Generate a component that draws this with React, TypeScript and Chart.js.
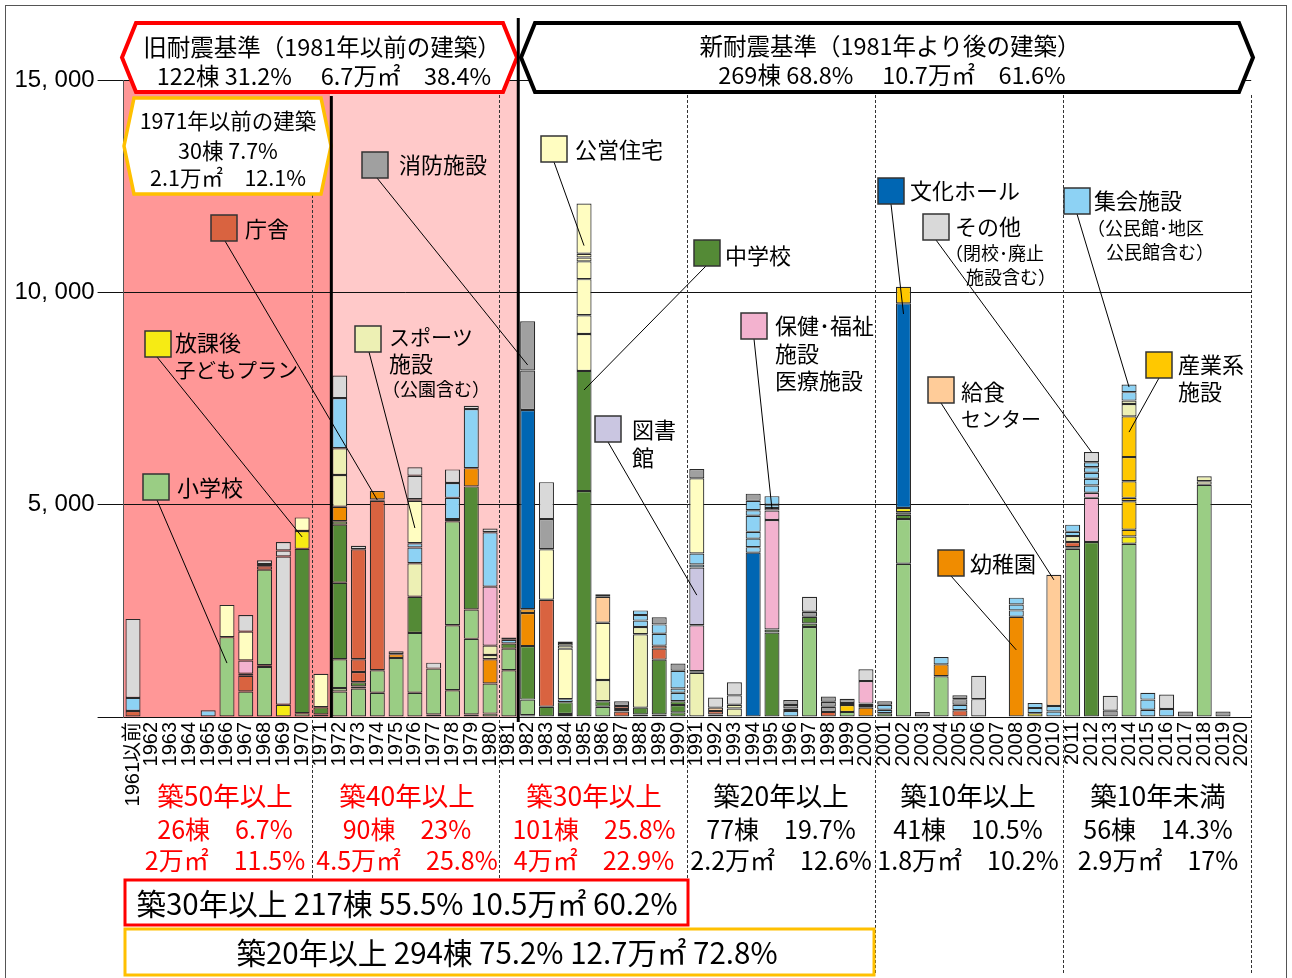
import React, { useEffect, useRef } from 'react';
import { Chart, registerables } from 'chart.js';

Chart.register(...registerables);

type V = number | number[];

const years: string[] = [
  '1961以前', '1962', '1963', '1964', '1965', '1966', '1967', '1968', '1969', '1970',
  '1971', '1972', '1973', '1974', '1975', '1976', '1977', '1978', '1979', '1980',
  '1981', '1982', '1983', '1984', '1985', '1986', '1987', '1988', '1989', '1990',
  '1991', '1992', '1993', '1994', '1995', '1996', '1997', '1998', '1999', '2000',
  '2001', '2002', '2003', '2004', '2005', '2006', '2007', '2008', '2009', '2010',
  '2011', '2012', '2013', '2014', '2015', '2016', '2017', '2018', '2019', '2020',
];

// 延床面積(㎡)  rows: 1961以前-1970 / 1971-1980 / 1981-1990 / 1991-2000 / 2001-2010 / 2011-2020
const shogakko: V[] = [
  0, 0, 0, 0, 0, 1880, 600, [1180, 40, 2250], 0, 90,
  60, [600, 80, 680], 670, [570, 530], 1390, [570, 1410], [60, 1080], [630, 1530, 2450], [60, 1780, 690], [80, 710],
  [1100, 510], [40, 370], 0, 0, 0, 240, 0, 0, 0, 0,
  0, 0, 0, 0, 0, 0, 2120, 0, 120, 0,
  0, [3610, 1050], 0, 960, 0, 0, 0, 0, 0, 0,
  3960, 0, 0, 4080, 0, 0, 0, 5470, 0, 0,
];
const chugakko: V[] = [
  0, 0, 0, 0, 0, 0, 0, 0, 0, 3870,
  170, [1800, 1370, 80], [50, 100], 0, 0, 850, 0, 50, 2900, 0,
  120, 1260, 240, [70, 280], [5320, 2830], 130, 0, [60, 160], [60, 1290], [110, 170, 90],
  0, 60, 0, 0, [1990, 70], 0, [80, 160], 0, 0, 0,
  90, [100, 60], 0, 0, 0, 0, 0, 0, 0, 0,
  40, 4120, 0, 0, 0, 0, 0, 0, 0, 0,
];
const chosha: V[] = [
  140, 0, 0, 0, 0, 0, [370, 50], [80, 50], 0, 0,
  0, 0, [240, 300, 2590], [3990, 30], 0, 0, 0, 0, 0, 0,
  0, 0, 2520, 0, 0, 0, [130, 60, 70], 0, [260, 70], 0,
  0, 80, 0, 0, 0, 0, 0, 120, 0, 0,
  0, 0, 0, 0, 160, 0, 0, 0, 0, 0,
  120, 0, 0, 0, 0, 0, 0, 0, 0, 0,
];
const yochien: V[] = [
  0, 0, 0, 0, 0, 0, 0, 0, 0, 0,
  0, 340, 0, 200, 90, 0, 0, 0, 430, 570,
  0, [780, 90], 0, 0, 0, 0, 0, 0, 0, 0,
  0, 0, 0, 0, 0, 0, 0, 0, 0, [220, 40],
  0, 0, 0, 280, 0, 0, 0, 2360, 0, 0,
  0, 0, 0, 0, 0, 0, 0, 0, 0, 0,
];
const hokago: V[] = [
  0, 0, 0, 0, 0, 0, 0, 0, 290, 420,
  0, 0, 0, 0, 0, 0, 0, 0, 0, 0,
  0, 0, 0, 0, 0, 0, 0, 0, 0, 0,
  0, 0, 0, 0, 0, 0, 0, 0, 0, 55,
  0, 100, 0, 0, 0, 0, 0, 0, 90, 0,
  0, 0, 0, 170, 0, 0, 0, 0, 0, 0,
];
const bunka: V[] = [
  0, 0, 0, 0, 0, 0, 0, 0, 0, 0,
  0, 0, 0, 0, 0, 0, 0, 0, 0, 0,
  0, 4690, 0, 0, 0, 0, 0, 0, 0, 0,
  0, 0, 0, 3870, 0, 0, 0, 0, 0, 0,
  0, 4820, 0, 0, 0, 0, 0, 0, 0, 0,
  0, 0, 0, 0, 0, 0, 0, 0, 0, 0,
];
const sangyo: V[] = [
  0, 0, 0, 0, 0, 0, 0, 0, 0, 0,
  0, 0, 0, 0, 0, 0, 0, 0, 0, 0,
  0, 0, 0, 0, 0, 0, 0, 0, 0, 0,
  0, 0, 0, 0, 0, 0, 0, 0, [160, 50], 0,
  0, 390, 0, 0, 0, 0, 0, 0, 0, 0,
  0, 0, 0, [160, 670, 80, 390, 570, 960], 0, 0, 0, 0, 0, 0,
];
const sports: V[] = [
  0, 0, 0, 0, 0, 0, 0, 0, 0, 0,
  0, [750, 630], 0, 0, 0, 790, 0, 0, 0, [100, 220],
  0, 0, 0, 0, 0, 500, 0, [1730, 170], 0, 0,
  [1040, 40], 0, [200, 90], 0, 0, 0, 0, 0, 0, 0,
  0, 0, 0, 0, 0, 0, 0, 0, 0, 0,
  140, 0, 0, [290, 80], 0, 0, 0, [80, 120], 0, 0,
];
const hoken: V[] = [
  0, 0, 0, 0, 0, 0, 310, 0, 0, 0,
  0, 0, 0, 0, 0, 0, 0, 0, 0, 1390,
  0, 0, 0, 0, 0, 0, 0, 0, 0, 0,
  1080, 0, 0, 0, [2580, 220, 60], 0, 0, 0, 0, 530,
  0, 0, 0, 0, 0, 0, 0, 0, 0, 0,
  0, [1040, 120], 0, 0, 0, 0, 0, 0, 0, 0,
];
const tosho: V[] = [
  0, 0, 0, 0, 0, 0, 0, 0, 0, 0,
  0, 0, 0, 0, 0, 0, 0, 0, 0, 0,
  0, 0, 0, 0, 0, 0, 0, 0, 0, 0,
  1360, 0, 0, 0, 0, 0, 0, 0, 0, 0,
  0, 0, 0, 0, 0, 0, 0, 0, 0, 0,
  0, 0, 0, 0, 0, 0, 0, 0, 0, 0,
];
const shukai: V[] = [
  310, 0, 0, 0, 160, 0, 0, 0, 0, 0,
  0, 1180, 0, 0, 0, [370, 100], 0, [500, 350], 1390, 1280,
  90, 0, 0, 70, 0, 0, 0, [150, 130, 110], [280, 220], [200, 100, 420],
  [70, 260], 0, 0, [130, 200, 160, 380, 130, 220], [80, 200], 140, 0, 0, 0, 0,
  [80, 120], 0, 0, 170, 130, 0, 0, [150, 140, 160], [120, 120], [130, 130],
  [100, 170], [170, 160, 140, 130, 120], 0, [200, 180], [170, 240, 160], 190, 0, 0, 0, 0,
];
const koei: V[] = [
  0, 0, 0, 0, 0, 760, 680, 0, 0, 320,
  790, 0, 0, 0, 0, [1000, 40], 0, 0, 0, 0,
  0, 0, 1190, [1190, 70, 60], [870, 440, 850, 420, 90, 90, 1180], 1350, 0, 0, 0, 0,
  1770, 0, 0, 0, 0, 0, 0, 0, 0, 0,
  0, 0, 0, 0, 0, 0, 0, 0, 0, 0,
  0, 0, 0, 0, 0, 0, 0, 0, 0, 0,
];
const kyushoku: V[] = [
  0, 0, 0, 0, 0, 0, 0, 0, 0, 0,
  0, 0, 0, 0, 0, 0, 0, 0, 0, 0,
  0, 0, 0, 0, 0, 610, 0, 0, 0, 0,
  0, 80, 0, 0, 0, 0, 0, 0, 0, 0,
  0, 0, 0, 0, 0, 0, 0, 0, 0, 3090,
  0, 0, 0, 0, 0, 0, 0, 0, 0, 0,
];
const shobo: V[] = [
  0, 0, 0, 0, 0, 0, 0, 0, 0, 0,
  0, 0, 0, 0, 70, 0, 0, 0, 0, 0,
  50, [930, 1160], 710, 40, 0, 60, 110, 0, 170, 170,
  220, 0, 0, 170, 0, [60, 80, 120], 120, [120, 120, 120], 100, 0,
  80, 0, 120, 0, [130, 90], 0, 0, 0, 0, 0,
  0, 0, 150, 0, 0, 0, 130, 0, 130, 0,
];
const sonota: V[] = [
  1860, 0, 0, 0, 0, 0, 390, 90, [3490, 140, 200], 0,
  0, 530, 80, 0, 0, [550, 200], 140, 320, 80, 90,
  0, 0, 870, 0, 0, 0, 0, 0, 0, 0,
  0, 240, [220, 310], 0, 0, 0, 350, 0, 0, 280,
  0, 0, 0, 0, 0, [420, 550], 0, 0, 0, 0,
  0, 240, 350, 0, 0, 340, 0, 0, 0, 0,
];

const yTicks: number[] = [0, 5000, 10000, 15000];

// stacking order bottom -> top
const types: { name: string; color: string; data: V[] }[] = [
  { name: '小学校', color: '#9ACD84', data: shogakko },
  { name: '中学校', color: '#548A36', data: chugakko },
  { name: '庁舎', color: '#D96340', data: chosha },
  { name: '幼稚園', color: '#F08C00', data: yochien },
  { name: '放課後子どもプラン', color: '#F6EB14', data: hokago },
  { name: '文化ホール', color: '#0066B3', data: bunka },
  { name: '産業系施設', color: '#FFC800', data: sangyo },
  { name: 'スポーツ施設', color: '#EDF0B4', data: sports },
  { name: '保健・福祉施設 医療施設', color: '#F3B2CF', data: hoken },
  { name: '図書館', color: '#CAC6E1', data: tosho },
  { name: '集会施設', color: '#8DD2F4', data: shukai },
  { name: '公営住宅', color: '#FFFDC1', data: koei },
  { name: '給食センター', color: '#FFCC99', data: kyushoku },
  { name: '消防施設', color: '#A0A0A0', data: shobo },
  { name: 'その他', color: '#D9D9D9', data: sonota },
];

const colorOf = (n: string) => types.find((t) => t.name === n)!.color;

const JP = "'Noto Sans CJK JP', 'Noto Sans', sans-serif";

type Note = {
  type: string;
  box: [number, number];
  text: [string, number, number, number][];
  from: [number, number];
  to: [string, number];
};

const notes: Note[] = [
  { type: '小学校', box: [143, 474], text: [['小学校', 177, 488, 22]], from: [157, 500], to: ['1966', 1270] },
  { type: '放課後子どもプラン', box: [145, 331], text: [['放課後', 175, 343, 22], ['子どもプラン', 175, 370, 20.5]], from: [157, 357], to: ['1970', 4240] },
  { type: '庁舎', box: [211, 215], text: [['庁舎', 245, 229, 22]], from: [225, 241], to: ['1974', 5110] },
  { type: 'スポーツ施設', box: [355, 326], text: [['スポーツ', 389, 337, 21], ['施設', 389, 364, 22], ['（公園含む）', 382, 389, 18]], from: [369, 352], to: ['1976', 4450] },
  { type: '消防施設', box: [362, 152], text: [['消防施設', 399, 165, 22]], from: [377, 178], to: ['1982', 8290] },
  { type: '公営住宅', box: [541, 136], text: [['公営住宅', 575, 150, 22]], from: [554, 162], to: ['1985', 11100] },
  { type: '中学校', box: [694, 240], text: [['中学校', 725, 256, 22]], from: [706, 266], to: ['1985', 7700] },
  { type: '図書館', box: [595, 416], text: [['図書', 632, 430, 22], ['館', 632, 458, 22]], from: [608, 442], to: ['1991', 2870] },
  { type: '保健・福祉施設 医療施設', box: [741, 313], text: [['保健･福祉', 775, 326, 22], ['施設', 775, 354, 22], ['医療施設', 775, 381, 22]], from: [754, 339], to: ['1995', 4900] },
  { type: '文化ホール', box: [878, 178], text: [['文化ホール', 910, 191, 22]], from: [891, 204], to: ['2002', 9490] },
  { type: 'その他', box: [923, 214], text: [['その他', 955, 227, 22], ['（閉校･廃止', 945, 253, 18], ['施設含む）', 966, 277, 18]], from: [936, 240], to: ['2012', 6240] },
  { type: '給食センター', box: [928, 377], text: [['給食', 961, 392, 22], ['センター', 961, 419, 20]], from: [941, 403], to: ['2010', 3230] },
  { type: '幼稚園', box: [938, 550], text: [['幼稚園', 970, 564, 22]], from: [951, 576], to: ['2008', 1580] },
  { type: '集会施設', box: [1064, 188], text: [['集会施設', 1094, 201, 22], ['（公民館･地区', 1087, 228, 18], ['公民館含む）', 1106, 252, 18]], from: [1077, 214], to: ['2014', 7770] },
  { type: '産業系施設', box: [1146, 352], text: [['産業系', 1178, 365, 22], ['施設', 1178, 392, 22]], from: [1159, 378], to: ['2014', 6710] },
];

const ageCols: { x: number; color: string; lines: string[] }[] = [
  { x: 225, color: '#FF0000', lines: ['築50年以上', '26棟　6.7%', '2万㎡　11.5%'] },
  { x: 407, color: '#FF0000', lines: ['築40年以上', '90棟　23%', '4.5万㎡　25.8%'] },
  { x: 594, color: '#FF0000', lines: ['築30年以上', '101棟　25.8%', '4万㎡　22.9%'] },
  { x: 781, color: '#000000', lines: ['築20年以上', '77棟　19.7%', '2.2万㎡　12.6%'] },
  { x: 968, color: '#000000', lines: ['築10年以上', '41棟　10.5%', '1.8万㎡　10.2%'] },
  { x: 1158, color: '#000000', lines: ['築10年未満', '56棟　14.3%', '2.9万㎡　17%'] },
];

function hexagon(ctx: CanvasRenderingContext2D, l: number, r: number, t: number, b: number, inset: number, stroke: string, lw: number) {
  const m = (t + b) / 2;
  ctx.beginPath();
  ctx.moveTo(l, m);
  ctx.lineTo(l + inset, t);
  ctx.lineTo(r - inset, t);
  ctx.lineTo(r, m);
  ctx.lineTo(r - inset, b);
  ctx.lineTo(l + inset, b);
  ctx.closePath();
  ctx.fillStyle = '#ffffff';
  ctx.fill();
  ctx.lineJoin = 'miter';
  ctx.strokeStyle = stroke;
  ctx.lineWidth = lw;
  ctx.stroke();
}

function text(ctx: CanvasRenderingContext2D, s: string, x: number, y: number, size: number, align: CanvasTextAlign, color = '#000') {
  ctx.font = `${size}px ${JP}`;
  ctx.fillStyle = color;
  ctx.textAlign = align;
  ctx.textBaseline = 'middle';
  ctx.fillText(s, x, y);
}

const decoPlugin = {
  id: 'deco',
  beforeDraw(chart: any) {
    const { ctx, chartArea: a, scales } = chart;
    const x = scales.x;
    const step = x.getPixelForValue(1) - x.getPixelForValue(0);
    const bnd = (i: number) => x.getPixelForValue(i) - step / 2;
    ctx.save();
    ctx.fillStyle = '#FF9797';
    ctx.fillRect(a.left, a.top, bnd(11) - a.left, a.bottom - a.top);
    ctx.fillStyle = '#FFC9C9';
    ctx.fillRect(bnd(11), a.top, bnd(21) - bnd(11), a.bottom - a.top);
    ctx.restore();
  },
  afterDraw(chart: any) {
    const { ctx, scales } = chart;
    const x = scales.x;
    const y = scales.y;
    const step = x.getPixelForValue(1) - x.getPixelForValue(0);
    const bnd = (i: number) => x.getPixelForValue(i) - step / 2;
    ctx.save();

    // dashed separators
    ctx.strokeStyle = '#333';
    ctx.lineWidth = 1;
    ctx.setLineDash([3, 2]);
    const dashed: [number, number, number][] = [
      [10, 195, 878], [20, 95, 878], [30, 95, 880], [40, 95, 975], [50, 95, 975], [60, 95, 975],
    ];
    for (const [i, t, b] of dashed) {
      const px = Math.round(bnd(i)) + 0.5;
      ctx.beginPath();
      ctx.moveTo(px, t);
      ctx.lineTo(px, b);
      ctx.stroke();
    }
    ctx.setLineDash([]);

    // headers
    hexagon(ctx, 122, 517, 23, 92, 14, '#FF0000', 4);
    hexagon(ctx, 521, 1253, 23, 92, 14, '#000000', 4);
    hexagon(ctx, 124, 331, 98, 194, 10, '#FFC000', 3.5);
    text(ctx, '旧耐震基準（1981年以前の建築）', 322, 47, 23.5, 'center');
    text(ctx, '122棟 31.2%　 6.7万㎡　38.4%', 324, 76, 23.5, 'center');
    text(ctx, '新耐震基準（1981年より後の建築）', 890, 46, 23.5, 'center');
    text(ctx, '269棟 68.8%　 10.7万㎡　61.6%', 892, 75, 23.5, 'center');
    text(ctx, '1971年以前の建築', 228, 121, 21.5, 'center');
    text(ctx, '30棟 7.7%', 228, 151, 21.5, 'center');
    text(ctx, '2.1万㎡　12.1%', 228, 178, 21.5, 'center');

    // thick solid separators
    ctx.strokeStyle = '#000';
    ctx.lineWidth = 3;
    ctx.beginPath();
    ctx.moveTo(bnd(11) + 1, 96);
    ctx.lineTo(bnd(11) + 1, 718);
    ctx.moveTo(bnd(21), 18);
    ctx.lineTo(bnd(21), 722);
    ctx.stroke();

    // annotations
    for (const n of notes) {
      const ti = years.indexOf(n.to[0]);
      const tx = x.getPixelForValue(ti);
      const ty = y.getPixelForValue(n.to[1]);
      ctx.strokeStyle = '#000';
      ctx.lineWidth = 1;
      ctx.beginPath();
      ctx.moveTo(n.from[0], n.from[1]);
      ctx.lineTo(tx, ty);
      ctx.stroke();
      ctx.fillStyle = colorOf(n.type);
      ctx.fillRect(n.box[0], n.box[1], 26, 26);
      ctx.strokeStyle = '#333';
      ctx.lineWidth = 1.5;
      ctx.strokeRect(n.box[0], n.box[1], 26, 26);
      for (const [s, px, py, sz] of n.text) text(ctx, s, px, py, sz, 'left');
    }

    // age groups
    for (const c of ageCols) {
      text(ctx, c.lines[0], c.x, 796, 26.5, 'center', c.color);
      text(ctx, c.lines[1], c.x, 829, 25, 'center', c.color);
      text(ctx, c.lines[2], c.x, 860, 25, 'center', c.color);
    }
    ctx.lineWidth = 3;
    ctx.strokeStyle = '#FF0000';
    ctx.strokeRect(125, 880, 563, 45);
    text(ctx, '築30年以上 217棟 55.5% 10.5万㎡ 60.2%', 407, 904, 29.5, 'center');
    ctx.strokeStyle = '#FFC000';
    ctx.strokeRect(125, 929, 749, 46);
    text(ctx, '築20年以上 294棟 75.2% 12.7万㎡ 72.8%', 507, 953, 29.5, 'center');

    // outer frame
    ctx.strokeStyle = '#555';
    ctx.lineWidth = 1;
    ctx.strokeRect(5.5, 5.5, 1281, 990);
    ctx.restore();
  },
};

function segs(v: V): number[] {
  return Array.isArray(v) ? v : v ? [v] : [];
}

export default function App() {
  const ref = useRef<HTMLCanvasElement>(null);
  useEffect(() => {
    if (!ref.current) return;
    const datasets: any[] = [];
    for (const t of types) {
      const depth = Math.max(...t.data.map((v) => segs(v).length));
      for (let k = 0; k < depth; k++) {
        datasets.push({
          label: t.name,
          data: t.data.map((v) => {
            const s = segs(v);
            return k < s.length ? s[k] : null;
          }),
          backgroundColor: t.color,
          borderColor: '#2a2a2a',
          borderWidth: 1.2,
          borderSkipped: false,
          barPercentage: 0.8,
          categoryPercentage: 1,
          stack: 'all',
        });
      }
    }
    const chart = new Chart(ref.current, {
      type: 'bar',
      data: { labels: years, datasets },
      options: {
        responsive: false,
        animation: false,
        devicePixelRatio: 1,
        layout: { padding: { left: 0, top: 80, right: 40.8, bottom: 0 } },
        plugins: { legend: { display: false }, tooltip: { enabled: false } },
        scales: {
          x: {
            stacked: true,
            offset: true,
            grid: { display: false, drawTicks: false },
            border: { display: false },
            ticks: {
              autoSkip: false,
              minRotation: 90,
              maxRotation: 90,
              padding: 5,
              color: '#000',
              font: { family: "'Liberation Sans', 'Noto Sans CJK JP'", size: 20 },
            },
            afterFit: (s: any) => {
              s.height = 261;
            },
          },
          y: {
            stacked: true,
            min: yTicks[0],
            max: yTicks[yTicks.length - 1],
            afterBuildTicks: (s: any) => {
              s.ticks = yTicks.map((v) => ({ value: v }));
            },
            ticks: {
              padding: 3,
              color: '#000',
              font: { family: "'Liberation Sans', 'Noto Sans CJK JP'", size: 24 },
              callback: (v: any) => (v === 0 ? '' : Number(v).toLocaleString('en-US').replace(',', ', ')),
            },
            grid: { color: '#111', lineWidth: 1, drawTicks: true, tickLength: 26, tickColor: '#111' },
            border: { display: true, color: '#555', width: 1 },
            afterFit: (s: any) => {
              s.width = 123.6;
            },
          },
        },
      },
      plugins: [decoPlugin],
    });
    return () => chart.destroy();
  }, []);
  return (
    <div style={{ position: 'fixed', left: 0, top: 0, width: 1292, height: 978, background: '#fff' }}>
      <canvas ref={ref} width={1292} height={978} />
    </div>
  );
}
